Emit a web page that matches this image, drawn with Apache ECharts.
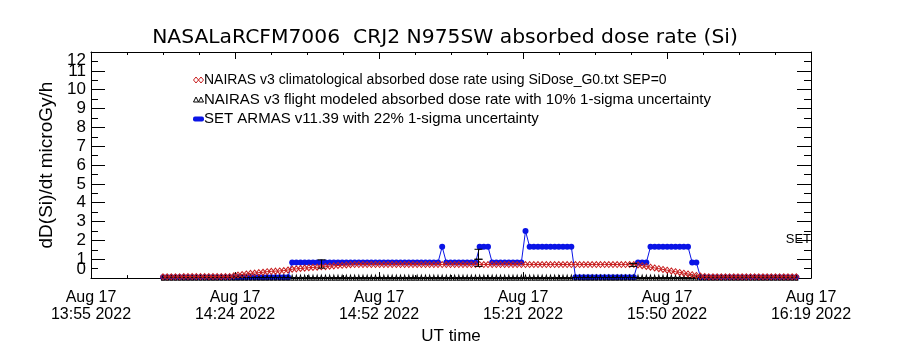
<!DOCTYPE html>
<html>
<head>
<meta charset="utf-8">
<title>NASALaRCFM7006 CRJ2 N975SW absorbed dose rate (Si)</title>
<script src="https://cdn.jsdelivr.net/npm/echarts@6/dist/echarts.min.js"></script>
<style>
  html, body { margin: 0; padding: 0; background: #ffffff; }
  #chart { width: 900px; height: 350px; }
</style>
</head>
<body>
<div id="chart"></div>
<script>
// ---- text ----
const titleText = 'NASALaRCFM7006  CRJ2 N975SW absorbed dose rate (Si)';
const yAxisName = 'dD(Si)/dt microGy/h';
const xAxisName = 'UT time';
const sideLabel = 'SET';
const legendNames = [
  'NAIRAS v3 climatological absorbed dose rate using SiDose_G0.txt SEP=0',
  'NAIRAS v3 flight modeled absorbed dose rate with 10% 1-sigma uncertainty',
  'SET ARMAS v11.39 with 22% 1-sigma uncertainty'
];

// ---- time axis (minutes after 13:55 UT) ----
const xTickLabels = [
  'Aug 17\n13:55 2022', 'Aug 17\n14:24 2022', 'Aug 17\n14:52 2022',
  'Aug 17\n15:21 2022', 'Aug 17\n15:50 2022', 'Aug 17\n16:19 2022'
];
const xTickStep = 28.8;
const xMax = 144;
const yMax = 12;

// samples every 50 s, first one 14.4 min after 13:55
const sampleStart = 14.4;
const sampleStep = 50 / 60;

// ---- dose rates, microGy/h ----
const climatological = [
  0.07, 0.07, 0.07, 0.07, 0.07, 0.08, 0.08, 0.08, 0.08, 0.08, 0.08, 0.08, 0.08, 0.08, 0.08, 0.08, 0.08,
  0.12, 0.16, 0.19, 0.22, 0.25, 0.27, 0.29, 0.31, 0.34, 0.36, 0.37, 0.38, 0.40, 0.43, 0.47, 0.49, 0.51,
  0.53, 0.55, 0.57, 0.58, 0.60, 0.61, 0.63, 0.65, 0.67, 0.68, 0.70, 0.71,
  0.72, 0.72, 0.72, 0.72, 0.72, 0.72, 0.72, 0.72, 0.72, 0.72, 0.72, 0.72, 0.72, 0.72, 0.72, 0.72, 0.72,
  0.72, 0.72, 0.72, 0.72, 0.72, 0.72, 0.72, 0.72, 0.72, 0.72, 0.72, 0.72, 0.72, 0.72, 0.72, 0.72, 0.72,
  0.72, 0.72, 0.72, 0.72, 0.72, 0.72, 0.72, 0.72, 0.72, 0.72, 0.72, 0.72, 0.72, 0.72, 0.72, 0.72, 0.72,
  0.72, 0.72, 0.72, 0.72, 0.72, 0.72, 0.72, 0.72, 0.72, 0.72, 0.72, 0.72, 0.72, 0.72, 0.72, 0.72, 0.72,
  0.70, 0.66, 0.62, 0.58, 0.54, 0.50, 0.46, 0.42, 0.38, 0.34, 0.30, 0.26, 0.22, 0.18, 0.14, 0.11, 0.09,
  0.07, 0.07, 0.07, 0.07, 0.07, 0.07, 0.07, 0.07, 0.07, 0.07, 0.07,
  0.07, 0.07, 0.07, 0.07, 0.07, 0.07, 0.07, 0.07, 0.07, 0.07, 0.07
];

const flightModeled = [
  0.03, 0.03, 0.03, 0.03, 0.03, 0.03, 0.03, 0.03, 0.03, 0.03, 0.03, 0.03, 0.03, 0.03, 0.03, 0.03, 0.03,
  0.03, 0.03, 0.03, 0.03, 0.03, 0.03, 0.03, 0.03, 0.03, 0.03, 0.03, 0.03, 0.03, 0.03, 0.03, 0.03, 0.03,
  0.03, 0.03, 0.03, 0.03, 0.03, 0.03, 0.03, 0.03, 0.03, 0.03, 0.03, 0.03, 0.03, 0.03, 0.03, 0.03, 0.03,
  0.03, 0.03, 0.03, 0.03, 0.03, 0.03, 0.03, 0.03, 0.03, 0.03, 0.03, 0.03, 0.03, 0.03, 0.03, 0.03, 0.03,
  0.03, 0.03, 0.03, 0.03, 0.03, 0.03, 0.03, 0.03, 0.03, 0.03, 0.03, 0.03, 0.03, 0.03, 0.03, 0.03, 0.03,
  0.03, 0.03, 0.03, 0.03, 0.03, 0.03, 0.03, 0.03, 0.03, 0.03, 0.03, 0.03, 0.03, 0.03, 0.03, 0.03, 0.03,
  0.03, 0.03, 0.03, 0.03, 0.03, 0.03, 0.03, 0.03, 0.03, 0.03, 0.03, 0.03, 0.03, 0.03, 0.03, 0.03, 0.03,
  0.03, 0.03, 0.03, 0.03, 0.03, 0.03, 0.03, 0.03, 0.03, 0.03, 0.03, 0.03, 0.03, 0.03, 0.03, 0.03, 0.03,
  0.03, 0.03, 0.03, 0.03, 0.03, 0.03, 0.03, 0.03, 0.03, 0.03, 0.03, 0.03, 0.03, 0.03, 0.03, 0.03, 0.03
];

const armas = [
  0.05, 0.05, 0.05, 0.05, 0.05, 0.05, 0.05, 0.05, 0.05, 0.05, 0.05, 0.05, 0.05, 0.05, 0.05, 0.05,
  0.05, 0.05, 0.05, 0.05, 0.05, 0.05, 0.05, 0.05, 0.05, 0.05, 0.05, 0.05, 0.05, 0.05, 0.05,
  0.83, 0.83, 0.83, 0.83, 0.83, 0.83, 0.83, 0.83, 0.83, 0.83, 0.83, 0.83, 0.83, 0.83, 0.83, 0.83, 0.83, 0.83,
  0.83, 0.83, 0.83, 0.83, 0.83, 0.83, 0.83, 0.83, 0.83, 0.83, 0.83, 0.83, 0.83, 0.83, 0.83, 0.83, 0.83, 0.83,
  1.66,
  0.83, 0.83, 0.83, 0.83, 0.83, 0.83, 0.83, 0.83,
  1.66, 1.66, 1.66,
  0.83, 0.83, 0.83, 0.83, 0.83, 0.83, 0.83, 0.83,
  2.50,
  1.66, 1.66, 1.66, 1.66, 1.66, 1.66, 1.66, 1.66, 1.66, 1.66, 1.66,
  0.05, 0.05, 0.05, 0.05, 0.05, 0.05, 0.05, 0.05, 0.05, 0.05, 0.05, 0.05, 0.05, 0.05, 0.05,
  0.83, 0.83, 0.83,
  1.66, 1.66, 1.66, 1.66, 1.66, 1.66, 1.66, 1.66, 1.66, 1.66,
  0.83, 0.83,
  0.05, 0.05, 0.05, 0.05, 0.05, 0.05, 0.05, 0.05, 0.05, 0.05, 0.05, 0.05,
  0.05, 0.05, 0.05, 0.05, 0.05, 0.05, 0.05, 0.05, 0.05, 0.05, 0.05, 0.05
];

// 1-sigma bars (minutes after 13:55, low, high)
const errTimes = [46.1, 77.5, 77.5, 108.4];
const errLow = [0.53, 0.62, 1.00, 0.62];
const errHigh = [0.97, 1.00, 1.53, 0.78];

// ---- colours and fonts ----
const RED = '#c81e1e';
const BLUE = '#0a14e6';
const INK = '#000000';
const FONT = '"Liberation Sans", Arial, sans-serif';
const WIDE_FONT = '"DejaVu Sans", "Liberation Sans", sans-serif';

const pairs = (vals) => vals.map((v, i) => [sampleStart + i * sampleStep, v]);

const chart = echarts.init(document.getElementById('chart'), null, { renderer: 'canvas' });

const axisLine = { show: true, onZero: false, lineStyle: { color: INK, width: 1 } };
const yLabelBase = { color: INK, fontFamily: FONT, fontSize: 17, margin: 5, showMinLabel: true, showMaxLabel: true };

const option = {
  animation: false,
  backgroundColor: '#ffffff',
  grid: { left: 91, right: 89, top: 52, bottom: 71, containLabel: false },
  xAxis: [
    {
      type: 'value', position: 'bottom', min: 0, max: xMax, interval: xTickStep,
      axisLine: axisLine,
      axisTick: { show: true, inside: true, length: 6, lineStyle: { color: INK } },
      minorTick: { show: true, splitNumber: 4, length: 3, lineStyle: { color: INK } },
      splitLine: { show: false },
      axisLabel: {
        color: INK, fontFamily: FONT, fontSize: 16, lineHeight: 17, margin: 11,
        showMinLabel: true, showMaxLabel: true,
        formatter: (v) => xTickLabels[Math.round(v / xTickStep)] || ''
      },
      name: xAxisName, nameLocation: 'middle', nameGap: 45,
      nameTextStyle: { color: INK, fontFamily: FONT, fontSize: 17 }
    },
    {
      type: 'value', position: 'top', min: 0, max: xMax, interval: xTickStep,
      axisLine: axisLine,
      axisTick: { show: true, inside: true, length: 7, lineStyle: { color: INK } },
      minorTick: { show: true, splitNumber: 4, length: 3, lineStyle: { color: INK } },
      splitLine: { show: false },
      axisLabel: { show: false }
    }
  ],
  yAxis: [
    {
      // main dose-rate axis: line, ticks and the inner labels 1..11
      type: 'value', position: 'left', min: 0, max: yMax, interval: 1,
      axisLine: axisLine,
      axisTick: { show: true, inside: true, length: 14, lineStyle: { color: INK } },
      minorTick: { show: true, splitNumber: 2, length: 7, lineStyle: { color: INK } },
      splitLine: { show: false },
      axisLabel: Object.assign({}, yLabelBase, {
        formatter: (v) => (v === 0 || v === yMax) ? '' : String(v)
      }),
      name: yAxisName, nameLocation: 'middle', nameGap: 35, nameRotate: 90,
      nameTextStyle: { color: INK, fontFamily: FONT, fontSize: 19 }
    },
    {
      type: 'value', position: 'right', min: 0, max: yMax, interval: 1,
      axisLine: axisLine,
      axisTick: { show: true, inside: true, length: 14, lineStyle: { color: INK } },
      minorTick: { show: true, splitNumber: 2, length: 7, lineStyle: { color: INK } },
      splitLine: { show: false },
      axisLabel: { show: false }
    },
    {
      // same scale, only the end labels, tucked inside the frame height
      type: 'value', position: 'left', min: 0, max: yMax, interval: 1,
      axisLine: { show: false }, axisTick: { show: false }, splitLine: { show: false },
      axisLabel: Object.assign({}, yLabelBase, {
        verticalAlignMinLabel: 'bottom', verticalAlignMaxLabel: 'top',
        formatter: (v) => (v === 0 || v === yMax) ? String(v) : ''
      })
    }
  ],
  series: [
    {
      name: legendNames[2], type: 'line', data: pairs(armas),
      symbol: 'circle', symbolSize: 6, showSymbol: true,
      itemStyle: { color: BLUE },
      lineStyle: { color: BLUE, width: 1 },
      z: 3
    },
    {
      name: legendNames[1], type: 'line', data: pairs(flightModeled),
      symbol: 'triangle', symbolSize: [3, 5], showSymbol: true,
      itemStyle: { color: 'rgba(0,0,0,0)', borderColor: INK, borderWidth: 1 },
      lineStyle: { color: INK, width: 1 },
      z: 4
    },
    {
      name: legendNames[0], type: 'line', data: pairs(climatological),
      symbol: 'diamond', symbolSize: [5, 6], showSymbol: true,
      itemStyle: { color: 'rgba(0,0,0,0)', borderColor: RED, borderWidth: 1 },
      lineStyle: { color: RED, width: 1 },
      z: 5
    },
    {
      type: 'custom',
      data: errTimes.map((t, i) => [t, errLow[i], errHigh[i]]),
      encode: { x: 0, y: [1, 2] },
      renderItem: (params, api) => {
        const t = api.value(0);
        const lo = api.coord([t, api.value(1)]);
        const hi = api.coord([t, api.value(2)]);
        const hw = 4;
        const st = { stroke: INK, lineWidth: 1 };
        return {
          type: 'group',
          children: [
            { type: 'line', shape: { x1: lo[0], y1: lo[1], x2: hi[0], y2: hi[1] }, style: st },
            { type: 'line', shape: { x1: lo[0] - hw, y1: lo[1], x2: lo[0] + hw, y2: lo[1] }, style: st },
            { type: 'line', shape: { x1: hi[0] - hw, y1: hi[1], x2: hi[0] + hw, y2: hi[1] }, style: st }
          ]
        };
      },
      z: 6
    }
  ],
  graphic: [
    {
      type: 'text', x: 445, y: 38,
      style: { text: titleText, fill: INK, font: '20.3px ' + WIDE_FONT, align: 'center', verticalAlign: 'middle' }
    },
    {
      type: 'text', x: 811, y: 239,
      style: { text: sideLabel, fill: INK, font: '13px ' + FONT, align: 'right', verticalAlign: 'middle' }
    },
    // legend: two hollow diamonds
    { type: 'polygon', shape: { points: [[193.5, 80], [196, 77], [198.5, 80], [196, 83]] },
      style: { fill: 'none', stroke: RED, lineWidth: 1 } },
    { type: 'polygon', shape: { points: [[198.5, 80], [201, 77], [203.5, 80], [201, 83]] },
      style: { fill: 'none', stroke: RED, lineWidth: 1 } },
    { type: 'text', x: 204, y: 80,
      style: { text: legendNames[0], fill: INK, font: '14px ' + FONT, verticalAlign: 'middle' } },
    // legend: two hollow triangles
    { type: 'polygon', shape: { points: [[193.5, 102], [196, 97], [198.5, 102]] },
      style: { fill: 'none', stroke: INK, lineWidth: 1 } },
    { type: 'polygon', shape: { points: [[198.5, 102], [201, 97], [203.5, 102]] },
      style: { fill: 'none', stroke: INK, lineWidth: 1 } },
    { type: 'text', x: 204, y: 99.5,
      style: { text: legendNames[1], fill: INK, font: '15px ' + FONT, verticalAlign: 'middle' } },
    // legend: filled circles run
    { type: 'rect', shape: { x: 193, y: 116.5, width: 11, height: 5, r: 2 },
      style: { fill: BLUE } },
    { type: 'text', x: 204, y: 118.5,
      style: { text: legendNames[2], fill: INK, font: '15px ' + FONT, verticalAlign: 'middle' } }
  ]
};

chart.setOption(option);
</script>
</body>
</html>
